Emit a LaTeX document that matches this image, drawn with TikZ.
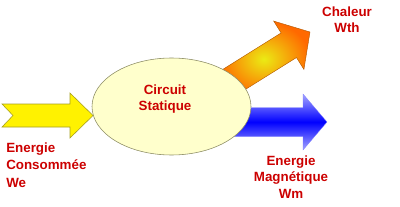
\documentclass[tikz,border=0pt]{standalone}
\usepackage{fontspec}
\setmainfont{Liberation Sans}
\usetikzlibrary{shapes.geometric}

\definecolor{lblred}{RGB}{204,0,0}
\definecolor{bubblefill}{RGB}{255,255,204}
\definecolor{bubbleline}{RGB}{140,140,100}
\definecolor{heatin}{RGB}{235,235,20}
\definecolor{heatout}{RGB}{255,105,0}

\begin{document}
\begin{tikzpicture}[
    x=0.25mm, y=-0.25mm,
    lbl/.style={text=lblred, font=\fontsize{9.5}{11.5}\selectfont\bfseries, align=center, inner sep=0pt},
    bubble/.style={ellipse, draw=bubbleline, fill=bubblefill, line width=0.4pt, minimum width=3.975cm, minimum height=2.425cm},
    inarrow/.style={draw=olive!80, fill=yellow, line width=0.4pt},
    magarrow/.style={draw=blue!50, line width=0.2pt, top color=blue!35, bottom color=blue!35, middle color=blue},
    heatarrow/.style={draw=orange!70!black, line width=0.3pt, inner color=heatin, outer color=heatout}
]
\useasboundingbox (0,0) rectangle (400,207);

% Chaleur (behind the circuit)
\begin{scope}[shift={(310,32)}, rotate=32]
\path[heatarrow] (0,0) -- (-25,-28.5) -- (-25,-14.5) -- (-100,-14.5)
    -- (-100,14.5) -- (-25,14.5) -- (-25,28.5) -- cycle;
\end{scope}

% Energie magnetique
\path[magarrow] (327,122) -- (303,94) -- (303,107.5) -- (230,107.5)
    -- (230,136.5) -- (303,136.5) -- (303,150) -- cycle;

% Circuit
\node[bubble] (circ) at (171.5,106.5) {};
\node[lbl] (circtxt) at (165,99) {Circuit\\Statique};

% Energie consommee
\path[inarrow] (93,115.5) -- (70,93) -- (70,104) -- (2,104) -- (13,115.5)
    -- (2,127) -- (70,127) -- (70,138) -- cycle;

% Labels
\node[lbl, align=left, anchor=west, font=\fontsize{9.5}{12.5}\selectfont\bfseries] (conso) at (6,165) {Energie\\Consommée\\We};
\node[lbl] (heat) at (347,20) {Chaleur\\Wth};
\node[lbl] (mag) at (291,177) {Energie\\Magnétique\\Wm};

\end{tikzpicture}
\end{document}
